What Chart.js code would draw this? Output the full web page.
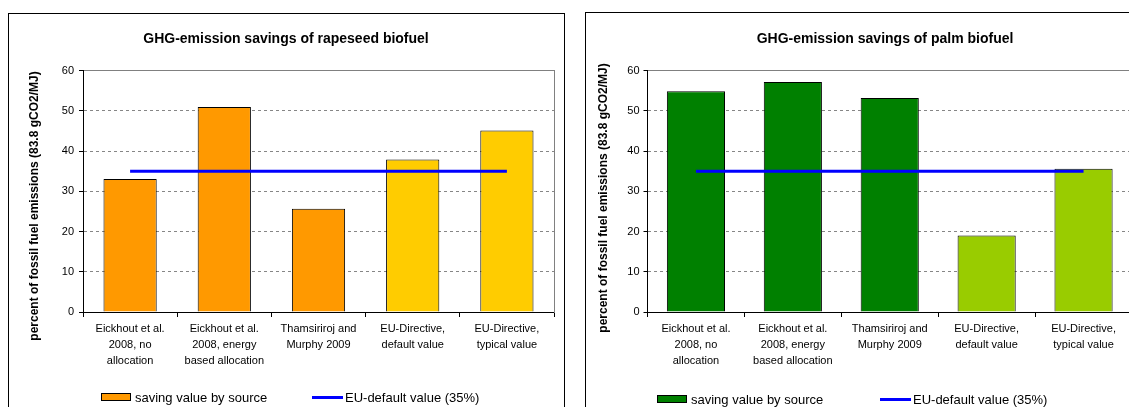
<!DOCTYPE html>
<html>
<head>
<meta charset="utf-8">
<title>GHG-emission savings</title>
<script src="https://cdn.jsdelivr.net/npm/chart.js@4.4.0/dist/chart.umd.min.js"></script>
<style>
  html, body { margin: 0; padding: 0; background: #fff; }
  body { position: relative; width: 1129px; height: 407px; overflow: hidden; font-family: Arial, "Liberation Sans", sans-serif; }
  .frame { position: absolute; border: 1px solid #000; box-sizing: border-box; }
  canvas { position: absolute; }
  .lg-box { position: absolute; height: 8px; border: 1px solid #000; box-sizing: border-box; }
  .lg-line { position: absolute; height: 3px; }
  .lg-text { position: absolute; font-size: 13px; line-height: 15px; color: #000; white-space: nowrap; }
</style>
</head>
<body>
<div class="frame" style="left:8px; top:13px; width:557px; height:420px;"></div>
<div class="frame" style="left:585px; top:12px; width:600px; height:420px;"></div>
<canvas id="rapeseed" width="556" height="440" style="left:8px; top:13px;"></canvas>
<canvas id="palm" width="600" height="440" style="left:585px; top:12px;"></canvas>

<script>
// datos
const categories = [
    ['Eickhout et al.', '2008, no', 'allocation'],
    ['Eickhout et al.', '2008, energy', 'based allocation'],
    ['Thamsiriroj and', 'Murphy 2009'],
    ['EU-Directive,', 'default value'],
    ['EU-Directive,', 'typical value']
];
const rapeseedSavings = [33.1, 51.0, 25.7, 37.9, 45.1];
const palmSavings = [54.9, 57.2, 53.2, 19.0, 35.6];
const euDefault = [35, 35, 35, 35, 35];
const yMin = 0;
const yMax = 60;
const yStep = 10;

const savingLabel = 'saving value by source';
const euLabel = 'EU-default value (35%)';
const yTitle = 'percent of fossil fuel emissions (83.8 gCO2/MJ)';

// colores
const rapeseedColors = ['#FF9900', '#FF9900', '#FF9900', '#FFCC00', '#FFCC00'];
const palmColors = ['#008000', '#008000', '#008000', '#99CC00', '#99CC00'];
const euColor = '#0000FF';

const FONT = 'Arial, "Liberation Sans", sans-serif';

// titulo del eje Y (Excel lo centra sobre toda la zona, no sobre el area del grafico)
const yTitlePlugin = {
    id: 'yTitle',
    afterDraw(chart, args, opts) {
        const c = chart.ctx;
        c.save();
        c.translate(opts.x, opts.y);
        c.rotate(-Math.PI / 2);
        c.font = 'bold 12px ' + FONT;
        c.fillStyle = '#000';
        c.textAlign = 'center';
        c.textBaseline = 'middle';
        c.fillText(opts.text, 0, 0);
        c.restore();
    }
};

function makeChart(canvasId, title, values, colors, lay) {
    const ctx = document.getElementById(canvasId).getContext('2d');
    return new Chart(ctx, {
        type: 'bar',
        data: {
            labels: categories,
            datasets: [
                {
                    type: 'line',
                    label: euLabel,
                    data: euDefault,
                    borderColor: euColor,
                    backgroundColor: euColor,
                    borderWidth: 3,
                    pointRadius: 0,
                    fill: false,
                    order: 0
                },
                {
                    type: 'bar',
                    label: savingLabel,
                    data: values,
                    backgroundColor: colors,
                    borderColor: '#000',
                    borderWidth: 1,
                    categoryPercentage: 1,
                    barPercentage: lay.barPct,
                    order: 1
                }
            ]
        },
        plugins: [yTitlePlugin],
        options: {
            responsive: false,
            animation: false,
            layout: { padding: 0 },
            plugins: {
                legend: { display: false },
                tooltip: { enabled: false },
                title: {
                    display: true,
                    text: title,
                    color: '#000',
                    font: { family: FONT, size: 14, weight: 'bold' },
                    padding: { top: lay.titleTop, bottom: lay.titleBottom }
                },
                yTitle: { text: yTitle, x: lay.yTitleX, y: lay.yTitleY }
            },
            scales: {
                x: {
                    position: 'bottom',
                    offset: true,
                    grid: { offset: true, drawOnChartArea: false, drawTicks: true, tickLength: 5, tickColor: '#000' },
                    border: { color: '#000', width: 1 },
                    ticks: { color: '#000', font: { family: FONT, size: 11, lineHeight: 1.45 }, padding: 4, maxRotation: 0, autoSkip: false },
                    afterFit: s => { s.height = lay.xHeight; }
                },
                xTop: {
                    position: 'top',
                    type: 'category',
                    labels: categories,
                    grid: { display: false, drawTicks: false },
                    ticks: { display: false },
                    border: { color: '#808080', width: 1 },
                    afterFit: s => { s.height = 0; }
                },
                y: {
                    position: 'left',
                    min: yMin,
                    max: yMax,
                    grid: {
                        color: c => (c.tick && c.tick.value === yMin) ? 'rgba(0,0,0,0)' : '#868686',
                        drawTicks: true,
                        tickLength: 4,
                        tickColor: '#000'
                    },
                    border: { color: '#000', width: 1, dash: [3, 3] },
                    ticks: { stepSize: yStep, color: '#000', font: { family: FONT, size: 11 }, padding: lay.yTickPad },
                    afterFit: s => { s.width = lay.yWidth; }
                },
                yRight: {
                    position: 'right',
                    min: yMin,
                    max: yMax,
                    grid: { display: false, drawTicks: false },
                    ticks: { display: false },
                    border: { color: '#808080', width: 1 },
                    afterFit: s => { s.width = lay.rightWidth; }
                }
            }
        }
    });
}

makeChart('rapeseed', 'GHG-emission savings of rapeseed biofuel', rapeseedSavings, rapeseedColors, {
    barPct: 0.565, titleTop: 17.6, titleBottom: 23.3, xHeight: 141,
    yWidth: 75, rightWidth: 10, yTickPad: 5, yTitleX: 27, yTitleY: 193
});
makeChart('palm', 'GHG-emission savings of palm biofuel', palmSavings, palmColors, {
    barPct: 0.6, titleTop: 18.6, titleBottom: 23.3, xHeight: 140,
    yWidth: 62.5, rightWidth: 53, yTickPad: 4, yTitleX: 19, yTitleY: 186
});

// leyenda en HTML
function addLegend(boxColor, boxX, lineX, y) {
    const box = document.createElement('div');
    box.className = 'lg-box';
    box.style.cssText = `left:${boxX}px; top:${y - 4}px; width:30px; background:${boxColor};`;
    document.body.appendChild(box);

    const t1 = document.createElement('div');
    t1.className = 'lg-text';
    t1.style.cssText = `left:${boxX + 34}px; top:${y - 7.5}px;`;
    t1.textContent = savingLabel;
    document.body.appendChild(t1);

    const line = document.createElement('div');
    line.className = 'lg-line';
    line.style.cssText = `left:${lineX}px; top:${y - 1}px; width:31px; background:${euColor};`;
    document.body.appendChild(line);

    const t2 = document.createElement('div');
    t2.className = 'lg-text';
    t2.style.cssText = `left:${lineX + 33}px; top:${y - 7.5}px;`;
    t2.textContent = euLabel;
    document.body.appendChild(t2);
}

addLegend(rapeseedColors[0], 101, 312, 397);
addLegend(palmColors[0], 657, 880, 399);
</script>
</body>
</html>
